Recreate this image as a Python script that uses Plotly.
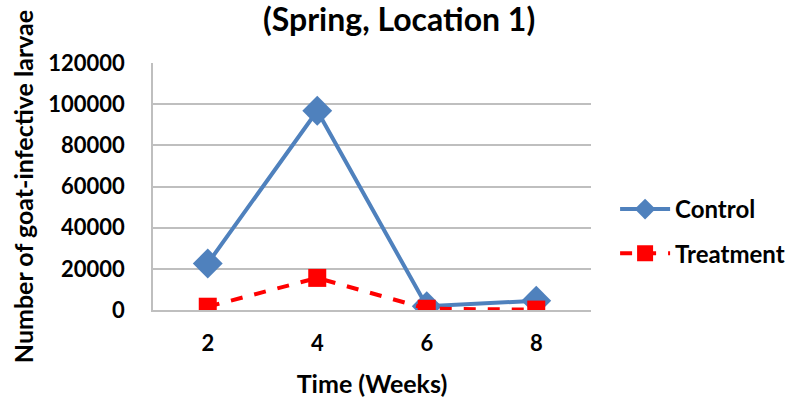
import plotly.graph_objects as go

weeks = ["2", "4", "6", "8"]
control = [22600, 96800, 1800, 4500]
treatment = [1600, 15600, 600, 200]
y_ticks = [0, 20000, 40000, 60000, 80000, 100000, 120000]

FONT = "Lato"
GRID = "#BFBFBF"

fig = go.Figure()
fig.add_trace(go.Scatter(
    x=weeks, y=control, name="<b>Control</b>", mode="lines+markers",
    legendgroup="control",
    line=dict(color="#4F81BD", width=4),
    marker=dict(symbol="diamond", size=23, color="#4F81BD"),
))
fig.add_trace(go.Scatter(
    x=weeks, y=treatment, name="<b>Treatment</b>", mode="lines+markers",
    legendgroup="treatment",
    line=dict(color="#FF0000", width=4, dash="dash"),
    marker=dict(symbol="square", size=18, color="#FF0000"),
))

fig.update_layout(
    width=803, height=402,
    margin=dict(l=153, r=212, t=63, b=92),
    paper_bgcolor="white", plot_bgcolor="white",
    font=dict(family=FONT, color="black", size=22),
    title=dict(text="<b>(Spring, Location 1)</b>", x=0.497, xanchor="center",
               y=0.951, yanchor="middle", font=dict(size=32, family=FONT)),
    showlegend=True,
    legend=dict(x=1.055, xanchor="left", y=0.318, yanchor="middle",
                font=dict(size=24, family=FONT), tracegroupgap=10,
                itemwidth=50),
    xaxis=dict(
        type="category", range=[-0.5, 3.5], showgrid=False, zeroline=False,
        automargin=False,
        showline=True, linecolor=GRID, linewidth=1.5,
        ticks="", tickfont=dict(size=22, family=FONT), ticklabelstandoff=13,
        tickprefix="<b>", ticksuffix="</b>",
        title=dict(text="<b>Time (Weeks)</b>", font=dict(size=25, family=FONT), standoff=20),
    ),
    yaxis=dict(
        range=[0, 120000], tickvals=y_ticks,
        ticktext=[f"<b>{v}</b>" for v in y_ticks],
        automargin=False,
        showgrid=True, gridcolor=GRID, gridwidth=1.5,
        zeroline=False, showline=True, linecolor=GRID, linewidth=1.5,
        ticks="", tickfont=dict(size=22, family=FONT), ticklabelstandoff=22,
        title=dict(text="<b>Number of goat-infective larvae</b>",
                   font=dict(size=25, family=FONT), standoff=8),
    ),
)

fig.write_html("out.html")
